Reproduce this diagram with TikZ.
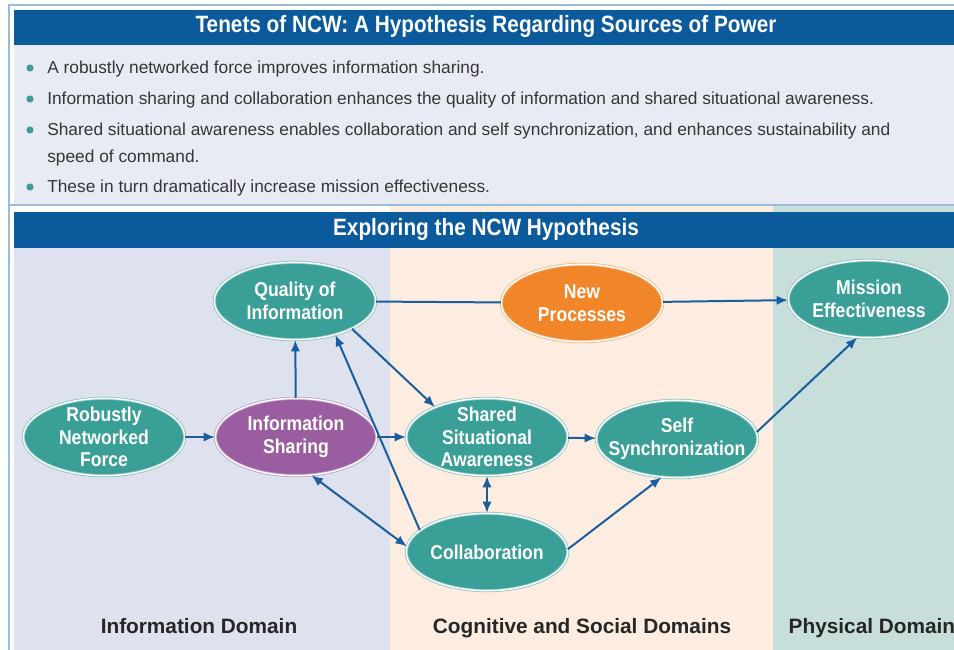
\documentclass[tikz,border=0pt]{standalone}
\usepackage{fontspec}
\setmainfont{Liberation Sans}
\newfontfamily\condfont[FakeStretch=0.88]{Liberation Sans}
\usetikzlibrary{shapes.geometric,arrows.meta}
\definecolor{barblue}{HTML}{0B5A9C}
\definecolor{panelgray}{HTML}{E8EBF3}
\definecolor{frameblue}{HTML}{9BBBD8}
\definecolor{infobg}{HTML}{DEE1EE}
\definecolor{cogbg}{HTML}{FCEDE0}
\definecolor{physbg}{HTML}{C7DEDB}
\definecolor{nodeteal}{HTML}{3A9F97}
\definecolor{nodepurple}{HTML}{9A5EA0}
\definecolor{nodeorange}{HTML}{F0852A}
\definecolor{linkblue}{HTML}{1A5E9E}
\definecolor{textgray}{HTML}{363636}
\begin{document}
\begin{tikzpicture}[x=0.75pt,y=-0.75pt,>={Latex[length=8.5pt,width=7pt]},
    goal/.style={ellipse,fill=nodeteal,draw=nodeteal!60!white,double=white,double distance=1.1pt,line width=0.6pt,
        minimum width=121pt,minimum height=58pt,inner xsep=-12pt,inner ysep=-6pt,align=center,text=white,
        font=\condfont\bfseries\fontsize{15}{17}\selectfont},
    link/.style={draw=linkblue,line width=1.5pt},
    bar/.style={text=white,font=\condfont\bfseries\fontsize{17.7}{20}\selectfont},
    tenet/.style={anchor=base west,inner sep=0pt,text=textgray,font=\fontsize{13}{20}\selectfont},
    domainlabel/.style={anchor=base,text=black!85,font=\bfseries\fontsize{15.6}{18}\selectfont}]
    \useasboundingbox (0,0) rectangle (954,650);
    % backgrounds
    \fill[white] (0,0) rectangle (954,650);
    \fill[panelgray] (14,10) rectangle (954,205);
    \fill[infobg] (14,205) rectangle (390,650);
    \fill[cogbg] (390,205) rectangle (773,650);
    \fill[physbg] (773,205) rectangle (954,650);
    \fill[white] (14,205) rectangle (390,212);
    \draw[frameblue,line width=1.2pt] (9,650) -- (9,5) -- (954,5);
    \draw[frameblue,line width=1.2pt] (9,205) -- (954,205);
    \fill[barblue] (14,10) rectangle (954,45);
    \fill[barblue] (14,212) rectangle (954,248);

    \node[bar] (title) at (486,26) {Tenets of NCW: A Hypothesis Regarding Sources of Power};
    \node[bar] (explore) at (486,229) {Exploring the NCW Hypothesis};

    \foreach \y in {68,99,130,187} \fill[nodeteal] (30,\y) circle (3.6);
    \node[tenet] (b1) at (47,73) {A robustly networked force improves information sharing.};
    \node[tenet] (b2) at (47,104) {Information sharing and collaboration enhances the quality of information and shared situational awareness.};
    \node[tenet] (b3) at (47,135) {Shared situational awareness enables collaboration and self synchronization, and enhances sustainability and};
    \node[tenet] (b3cont) at (47,162) {speed of command.};
    \node[tenet] (b4) at (47,192) {These in turn dramatically increase mission effectiveness.};

    \node[goal] (qual) at (295,301) {Quality of\\Information};
    \node[goal,fill=nodeorange,draw=nodeorange!60!white] (newp) at (582,303) {New\\Processes};
    \node[goal] (miss) at (869,299) {Mission\\Effectiveness};
    \node[goal] (force) at (104,437) {Robustly\\Networked\\Force};
    \node[goal,fill=nodepurple,draw=nodepurple!60!white] (share) at (296,437) {Information\\Sharing};
    \node[goal] (ssa) at (487,437) {Shared\\Situational\\Awareness};
    \node[goal] (sync) at (677,439) {Self\\Synchronization};
    \node[goal] (collab) at (487,552) {Collaboration};

    \node[domainlabel] (infodom) at (199,633) {Information Domain};
    \node[domainlabel] (cogdom) at (582,633) {Cognitive and Social Domains};
    \node[domainlabel,anchor=base west] (physdom) at (784,633) {Physical Domain};

    \draw[link,->] (force) to (share); \draw[link,->] (share) to (qual); \draw[link] (qual) to (newp); \draw[link,->] (newp) to (miss);
    \draw[link,->] (qual.-26) to (ssa.150); \draw[link,->] (collab.162) to (qual.-40); \draw[link,->] (share) to (ssa); \draw[link,->] (ssa) to (sync);
    \draw[link,<->] (share.-68) to (collab.176); \draw[link,<->] (ssa) to (collab); \draw[link,->] (collab.2) to (sync.-112); \draw[link,->] (sync.5) to (miss.-107);
\end{tikzpicture}
\end{document}
